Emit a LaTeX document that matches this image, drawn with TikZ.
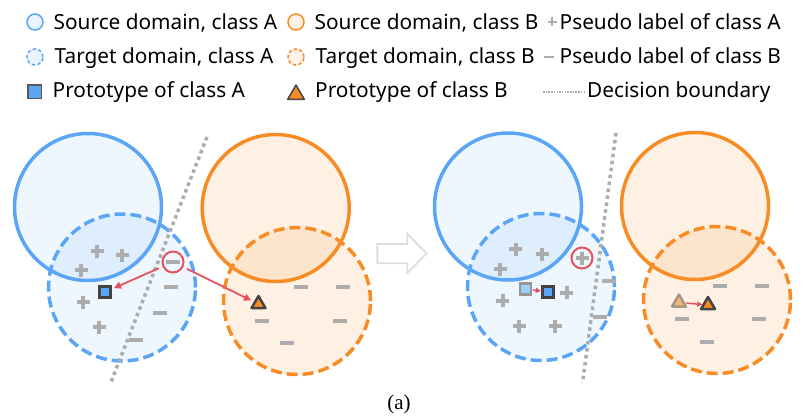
\documentclass[tikz,border=0pt]{standalone}
\usepackage{fontspec}
\setmainfont{Noto Sans}
\newfontfamily\capfont{Liberation Serif}
\usetikzlibrary{arrows.meta,shapes.geometric}
\definecolor{bA}{RGB}{90,165,245}
\definecolor{oB}{RGB}{247,140,37}
\definecolor{sg}{RGB}{172,172,172}
\definecolor{rd}{RGB}{230,82,92}
\definecolor{dk}{RGB}{68,68,68}
\definecolor{arrg}{RGB}{222,222,222}
\definecolor{fadeA}{RGB}{160,205,250}
\definecolor{fadeB}{RGB}{245,182,115}
\definecolor{fadedk}{RGB}{150,150,150}
\definecolor{fadedkB}{RGB}{165,150,135}
\begin{document}
\begin{tikzpicture}[x=1pt,y=-1pt,
  srcA/.style={draw=bA, line width=3.5pt, fill=bA, fill opacity=0.1},
  tgtA/.style={srcA, dash pattern=on 11pt off 5pt},
  srcB/.style={draw=oB, line width=3.5pt, fill=oB, fill opacity=0.12},
  tgtB/.style={srcB, dash pattern=on 11pt off 5pt},
  boundary/.style={draw=sg, line width=3.5pt, dash pattern=on 3.5pt off 3.5pt},
  psign/.pic={\draw[sg, line width=4pt] (-6.5,0)--(6.5,0) (0,-6.5)--(0,6.5);},
  msign/.pic={\draw[sg, line width=3.8pt] (-6.8,0)--(6.8,0);},
  redring/.style={circle, draw=rd, line width=2pt, minimum size=21pt, inner sep=0pt},
  protoA/.style={draw=dk, fill=bA, line width=2.5pt, minimum size=11pt, inner sep=0pt},
  protoAfade/.style={draw=fadedk, fill=fadeA, line width=2.5pt, minimum size=11pt, inner sep=0pt},
  protoB/.style={regular polygon, regular polygon sides=3, draw=dk, fill=oB, line width=2.5pt, line join=round, minimum size=16pt, inner sep=0pt},
  protoBfade/.style={protoB, draw=fadedkB, fill=fadeB},
  movearrow/.style={rd, line width=1.8pt, -{Triangle[length=7pt,width=7pt]}},
  smallarrow/.style={rd, line width=1.5pt, -{Triangle[length=5pt,width=5pt]}},
  legtext/.style={anchor=base west, inner sep=0pt, font=\fontsize{20.8}{24}\selectfont},
]
\useasboundingbox (0,0) rectangle (803,420);

% ---------------- legend ----------------
\node[circle, draw=bA, fill=bA!12, line width=1.5pt, minimum size=16pt, inner sep=0pt] (lgSA) at (35,22) {};
\node[legtext] (tSA) at (53.5,29.3) {Source domain, class A};
\node[circle, draw=oB, fill=oB!12, line width=1.5pt, minimum size=16pt, inner sep=0pt] (lgSB) at (296,22) {};
\node[legtext] (tSB) at (314.5,29.3) {Source domain, class B};
\draw[sg, line width=1.5pt] (547.5,22) -- (556.5,22) (552,17.5) -- (552,26.5);
\node[legtext] (tPA) at (559.5,29.3) {Pseudo label of class A};

\node[circle, draw=bA, fill=bA!12, line width=1.5pt, dash pattern=on 3.5pt off 2.2pt, minimum size=16pt, inner sep=0pt] (lgTA) at (35,57) {};
\node[legtext] (tTA) at (54.5,63.3) {Target domain, class A};
\node[circle, draw=oB, fill=oB!12, line width=1.5pt, dash pattern=on 3.5pt off 2.2pt, minimum size=16pt, inner sep=0pt] (lgTB) at (296,57) {};
\node[legtext] (tTB) at (315.5,63.3) {Target domain, class B};
\draw[sg, line width=1.5pt] (544,57) -- (554,57);
\node[legtext] (tPB) at (559.5,63.3) {Pseudo label of class B};

\node[draw=dk!90, fill=bA, line width=1.5pt, minimum size=13.5pt, inner sep=0pt] (lgPA) at (34.5,91.7) {};
\node[legtext] (tPrA) at (52.5,97.7) {Prototype of class A};
\node[regular polygon, regular polygon sides=3, draw=dk, fill=oB, line width=1.5pt, line join=round, minimum size=19pt, inner sep=0pt] (lgPB) at (296,94.5) {};
\node[legtext] (tPrB) at (315,97.7) {Prototype of class B};
\draw[sg, line width=1.5pt, dash pattern=on 1.5pt off 1.2pt] (543,92) -- (584,92);
\node[legtext] (tDB) at (587,97.7) {Decision boundary};

% ---------------- left panel ----------------
\draw[srcA] (88,207) circle[radius=73.5pt];
\draw[tgtA] (122,287.5) circle[radius=73.5pt];
\draw[srcB] (275.7,208) circle[radius=73.5pt];
\draw[tgtB] (297,301) circle[radius=73.5pt];
\draw[boundary] (207,137) -- (111,382);

\pic at (97,251) {psign};
\pic at (122,255) {psign};
\pic at (81,270) {psign};
\pic at (83,302) {psign};
\pic at (99,327) {psign};
\pic at (171,287) {msign};
\pic at (160,313) {msign};
\pic at (136,340) {msign};
\pic at (300.7,287) {msign};
\pic at (343,287) {msign};
\pic at (262,320.7) {msign};
\pic at (340,320.7) {msign};
\pic at (287,343) {msign};

\node[redring] (rc1) at (173,262) {};
\pic at (173,262) {msign};
\node[protoA] (pa1) at (105,292) {};
\node[protoB] (pb1) at (258.5,304) {};
\draw[movearrow, shorten <=4pt, shorten >=2.5pt] (rc1) -- (pa1);
\draw[movearrow, shorten <=4pt, shorten >=3pt] (rc1) -- (pb1);

% ---------------- transition arrow ----------------
\draw[arrg, line width=1.8pt, fill=white, line join=miter]
  (377.3,244) -- (407.3,244) -- (407.3,234) -- (426.7,253.5) -- (407.3,273) -- (407.3,263.3) -- (377.3,263.3) -- cycle;

% ---------------- right panel ----------------
\draw[srcA] (508,206.5) circle[radius=73.5pt];
\draw[tgtA] (541,287) circle[radius=73.5pt];
\draw[srcB] (695,206) circle[radius=73.5pt];
\draw[tgtB] (717,300) circle[radius=73.5pt];
\draw[boundary] (616,133) -- (582.5,383);

\pic at (515.7,249) {psign};
\pic at (542,254) {psign};
\pic at (500,269) {psign};
\pic at (566.7,292.7) {psign};
\pic at (502.7,300.7) {psign};
\pic at (519,326) {psign};
\pic at (555,326) {psign};
\pic at (609,281) {msign};
\pic at (600,317) {msign};
\pic at (720,286) {msign};
\pic at (762,286) {msign};
\pic at (682,319) {msign};
\pic at (759,319) {msign};
\pic at (707,342) {msign};

\node[redring] (rc2) at (582,258) {};
\pic at (582,258) {psign};
\node[protoAfade] (fa2) at (525.7,289) {};
\node[protoA] (pa2) at (548,292) {};
\draw[smallarrow, shorten <=0.5pt, shorten >=0.5pt] (fa2) -- (pa2);
\node[protoBfade] (fb2) at (679,302.5) {};
\node[protoB] (pb2) at (708,305) {};
\draw[smallarrow, shorten <=1pt, shorten >=0pt] (fb2) -- (pb2);

% ---------------- caption ----------------
\node[font=\capfont\fontsize{21}{24}\selectfont, inner sep=0pt] (cap) at (399,404) {(a)};
\end{tikzpicture}
\end{document}
